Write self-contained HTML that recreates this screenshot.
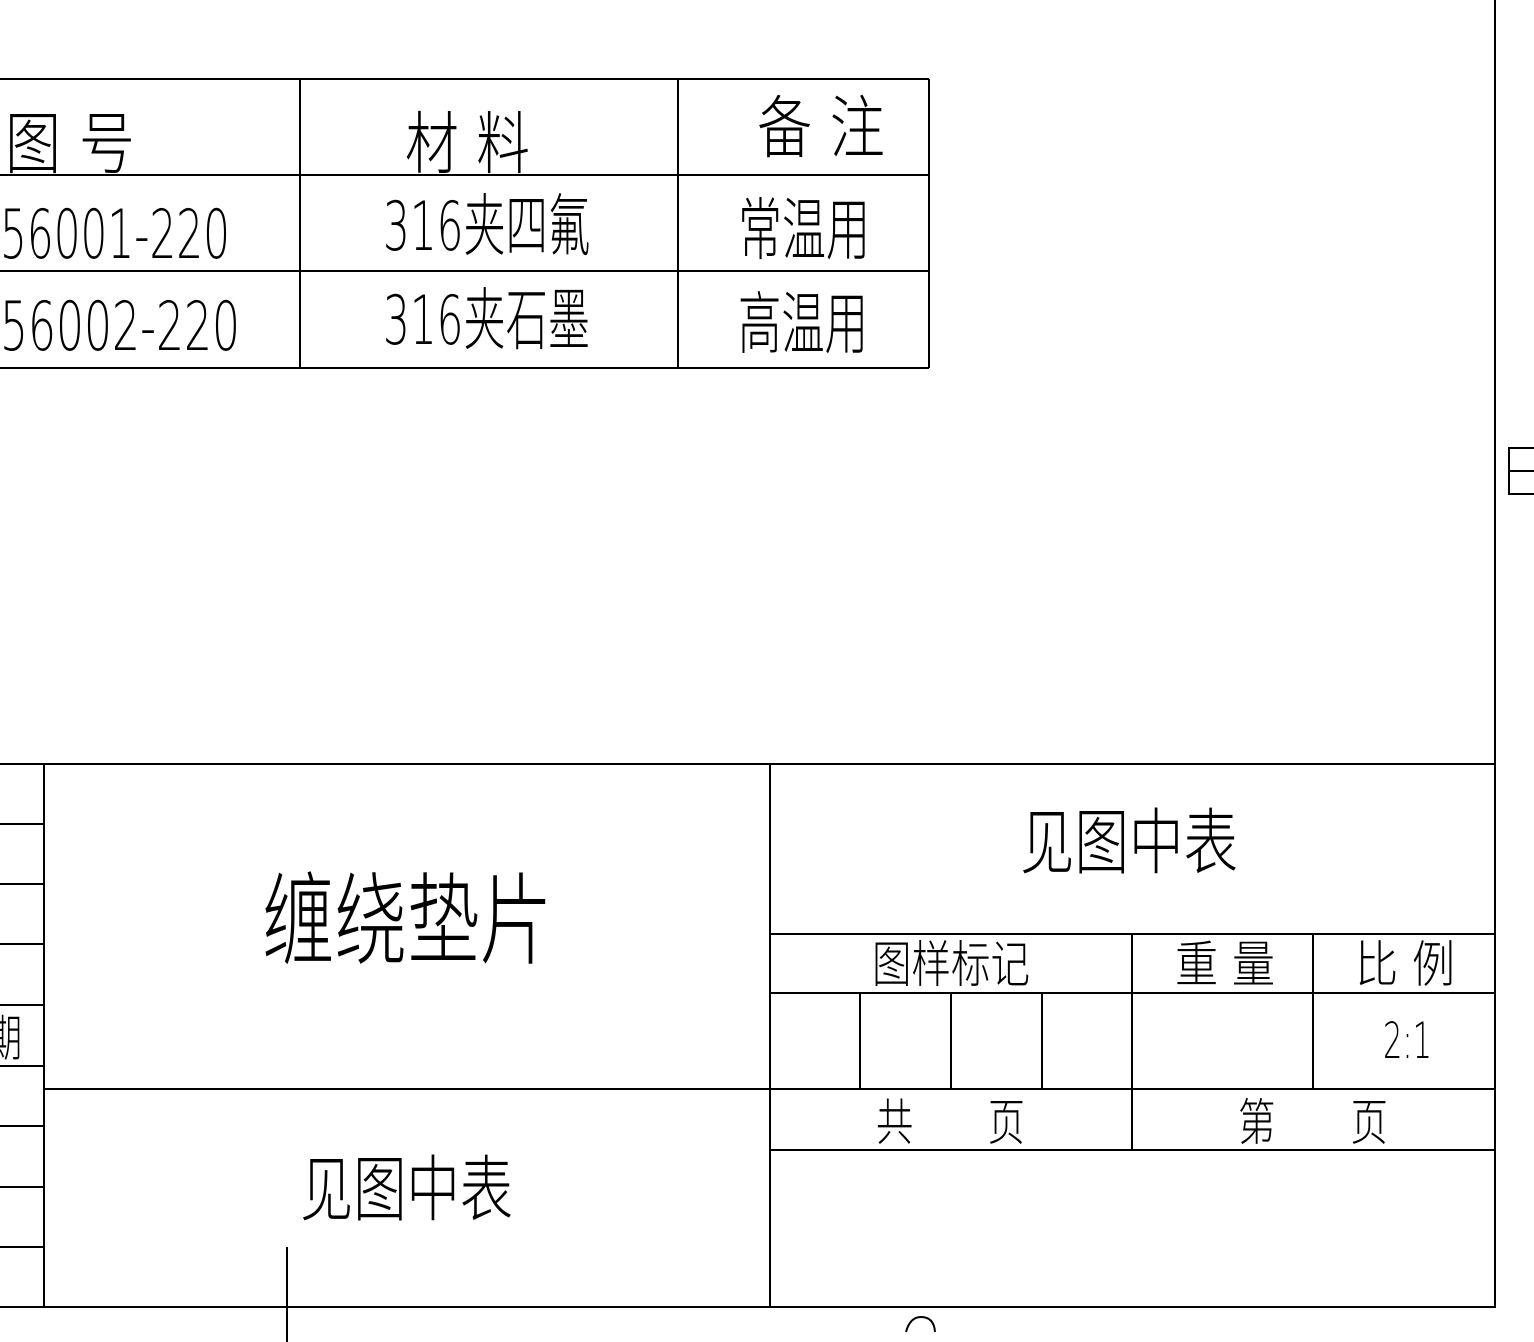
<!DOCTYPE html>
<html><head><meta charset="utf-8"><style>
html,body{margin:0;padding:0;background:#fff;}
svg{display:block}
text{font-family:"DejaVu Sans","Liberation Sans","Noto Sans CJK SC",sans-serif;fill:#000;font-weight:200}
</style></head><body>
<svg width="1534" height="1342" viewBox="0 0 1534 1342" xmlns="http://www.w3.org/2000/svg">
<g stroke="#000" stroke-width="2" fill="none">
<line x1="1495" y1="0" x2="1495" y2="1308"/>
<line x1="0" y1="1307" x2="1496" y2="1307"/>
<line x1="0" y1="764" x2="1495" y2="764"/>
<line x1="44" y1="764" x2="44" y2="1307"/>
<line x1="0" y1="824" x2="44" y2="824"/>
<line x1="0" y1="884" x2="44" y2="884"/>
<line x1="0" y1="944" x2="44" y2="944"/>
<line x1="0" y1="1005" x2="44" y2="1005"/>
<line x1="0" y1="1066" x2="44" y2="1066"/>
<line x1="0" y1="1126" x2="44" y2="1126"/>
<line x1="0" y1="1187" x2="44" y2="1187"/>
<line x1="0" y1="1247" x2="44" y2="1247"/>
<line x1="44" y1="1089" x2="1495" y2="1089"/>
<line x1="770" y1="764" x2="770" y2="1307"/>
<line x1="770" y1="934" x2="1495" y2="934"/>
<line x1="770" y1="993" x2="1495" y2="993"/>
<line x1="860" y1="993" x2="860" y2="1089"/>
<line x1="951" y1="993" x2="951" y2="1089"/>
<line x1="1042" y1="993" x2="1042" y2="1089"/>
<line x1="1132" y1="934" x2="1132" y2="1150"/>
<line x1="1313" y1="934" x2="1313" y2="1089"/>
<line x1="770" y1="1150" x2="1495" y2="1150"/>
<line x1="287" y1="1247" x2="287" y2="1342"/>
<line x1="0" y1="79" x2="929" y2="79"/>
<line x1="0" y1="175" x2="929" y2="175"/>
<line x1="0" y1="271" x2="929" y2="271"/>
<line x1="0" y1="368" x2="929" y2="368"/>
<line x1="300" y1="79" x2="300" y2="368"/>
<line x1="678" y1="79" x2="678" y2="368"/>
<line x1="929" y1="79" x2="929" y2="368"/>
<path d="M1534 448 H1509 V494 H1534 M1509 471 H1534"/>
<path d="M906 1332 Q910 1317 921 1317 Q934 1317 935 1332"/>
</g>
<g font-size="68">
<text x="5" y="168" textLength="130" lengthAdjust="spacingAndGlyphs">图 号</text>
<text x="405" y="168" textLength="125" lengthAdjust="spacingAndGlyphs">材 料</text>
<text x="757" y="152" textLength="128" lengthAdjust="spacingAndGlyphs">备 注</text>
<text x="0" y="258" textLength="230" lengthAdjust="spacingAndGlyphs">56001-220</text>
<text x="383" y="250" textLength="207" lengthAdjust="spacingAndGlyphs">316夹四氟</text>
<text x="738" y="254" textLength="132" lengthAdjust="spacingAndGlyphs">常温用</text>
<text x="0" y="350" textLength="240" lengthAdjust="spacingAndGlyphs">56002-220</text>
<text x="383" y="344" textLength="207" lengthAdjust="spacingAndGlyphs">316夹石墨</text>
<text x="738" y="348" textLength="130" lengthAdjust="spacingAndGlyphs">高温用</text>
</g>
<text x="262" y="956" font-size="100" textLength="290" lengthAdjust="spacingAndGlyphs">缠绕垫片</text>
<text x="1020" y="868" font-size="72" textLength="218" lengthAdjust="spacingAndGlyphs">见图中表</text>
<text x="300" y="1215" font-size="72" textLength="213" lengthAdjust="spacingAndGlyphs">见图中表</text>
<g font-size="50">
<text x="872" y="982" textLength="158" lengthAdjust="spacingAndGlyphs">图样标记</text>
<text x="1175" y="982" textLength="100" lengthAdjust="spacingAndGlyphs">重 量</text>
<text x="1355" y="982" textLength="100" lengthAdjust="spacingAndGlyphs">比 例</text>
<text x="1383" y="1058" textLength="49" lengthAdjust="spacingAndGlyphs">2:1</text>
<text x="876" y="1140" textLength="149" lengthAdjust="spacingAndGlyphs">共　　页</text>
<text x="1238" y="1140" textLength="150" lengthAdjust="spacingAndGlyphs">第　　页</text>
<text x="-12" y="1056" textLength="34" lengthAdjust="spacingAndGlyphs">期</text>
</g>
</svg>
</body></html>
